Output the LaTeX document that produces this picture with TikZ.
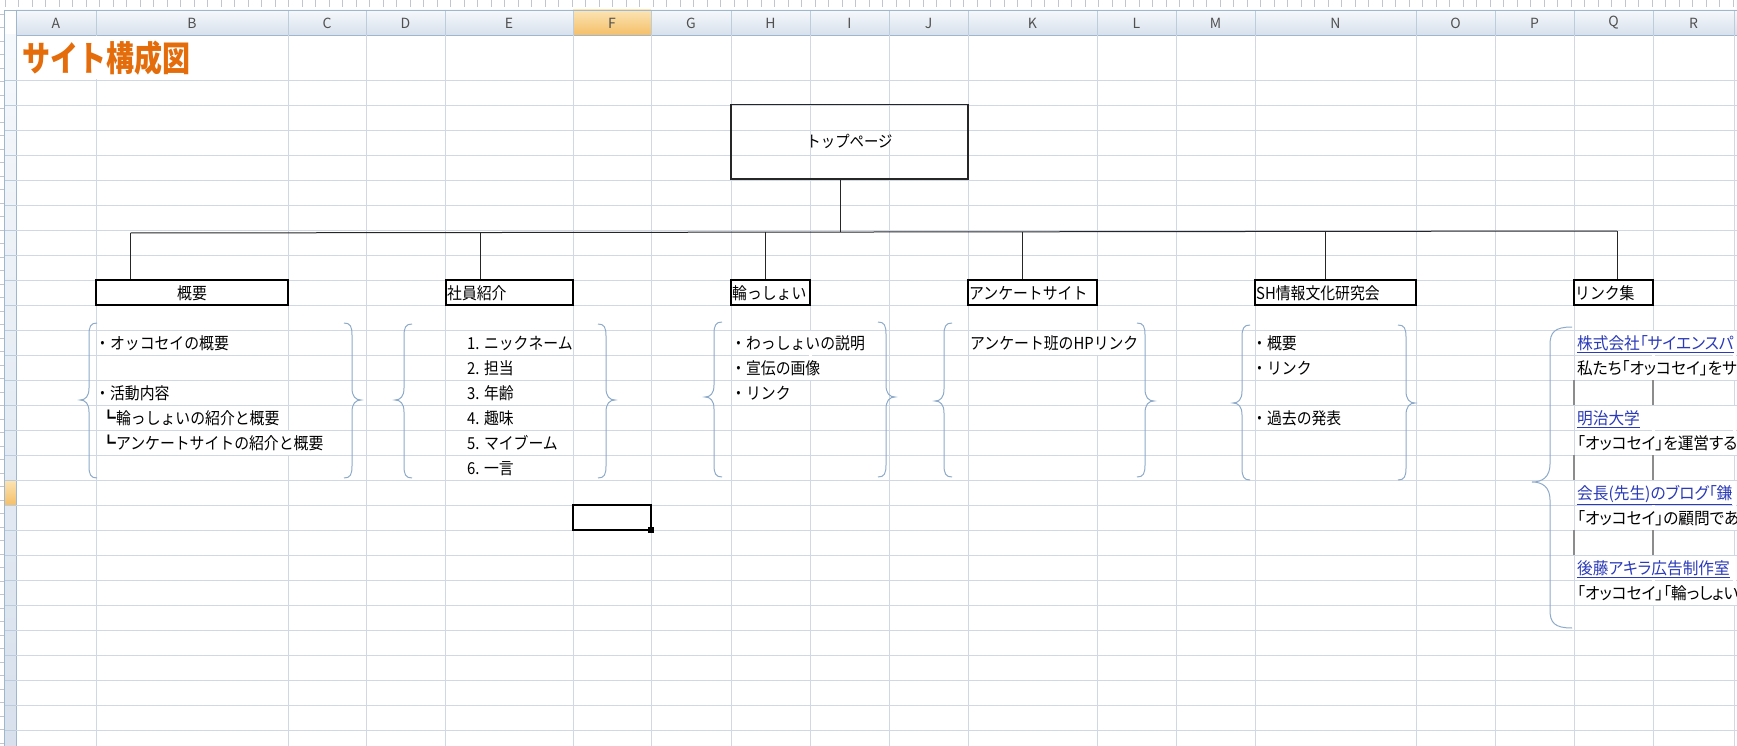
\documentclass[tikz,border=0pt]{standalone}
\usepackage{fontspec}
\setmainfont{Noto Sans CJK JP}
\newfontfamily\pfont{Noto Sans CJK JP}[RawFeature=+palt]
\usetikzlibrary{calc}
\definecolor{gridc}{HTML}{D0D7E5}
\definecolor{hdrline}{HTML}{9EB6CE}
\definecolor{hdrtop}{HTML}{F6F9FC}
\definecolor{hdrbot}{HTML}{D7E0EC}
\definecolor{seltop}{HTML}{FCE4B3}
\definecolor{selbot}{HTML}{F4BF68}
\definecolor{titleor}{HTML}{E46C0A}
\definecolor{bracec}{HTML}{8EAACB}
\definecolor{linkc}{HTML}{2A3AB8}
\definecolor{hdrtxt}{HTML}{505050}
\newcommand\jt[1]{\scalebox{0.9}[1]{#1}}
\newcommand\pt[1]{\scalebox{0.95}[1]{\pfont #1}}
\newcommand\mybrace[8]{% xv y1 ym y2 s arm tip r
\draw[bracestyle] ({#1+#5*#6},#2) .. controls ({#1+#5*#6*0.2},#2) and (#1,{#2+#8*0.3}) .. (#1,{#2+#8}) -- (#1,{#3-#8}) .. controls (#1,{#3-#8*0.3}) and ({#1-#5*#7*0.4},#3) .. ({#1-#5*#7},#3) .. controls ({#1-#5*#7*0.4},#3) and (#1,{#3+#8*0.3}) .. (#1,{#3+#8}) -- (#1,{#4-#8}) .. controls (#1,{#4-#8*0.3}) and ({#1+#5*#6*0.2},#4) .. ({#1+#5*#6},#4);}
\begin{document}
\begin{tikzpicture}[x=1pt,y=-1pt,
  txt/.style={inner sep=0pt, anchor=base west, font=\fontsize{16.5}{16.5}\selectfont},
  linktxt/.style={txt, text=linkc},
  hdr/.style={inner sep=0pt, font=\fontsize{14}{14}\selectfont, text=hdrtxt},
  sbox/.style={draw=black, line width=1.1pt, minimum height=25pt, inner sep=0pt},
  topbox/.style={draw=black!85, line width=1.1pt, minimum width=237pt, minimum height=74.5pt, inner sep=0pt, font=\fontsize{16}{16}\selectfont},
  conn/.style={draw=black!85, line width=1.0pt},
  bracestyle/.style={draw=bracec, line width=1pt},
  darkseg/.style={draw=black!45, line width=1.2pt}]
\useasboundingbox (0,0) rectangle (1737,746);
\clip (0,0) rectangle (1737,746);
\fill[white] (0,0) rectangle (1737,746);
% top ruler
\foreach \x in {5,18.5,...,1737} \draw[gridc!80!gray, line width=0.6pt] (\x,0) -- (\x,7);
\foreach \y in {14,27.5,...,746} \draw[gridc!80!gray, line width=0.6pt] (0,\y) -- (3.5,\y);
% column header
\shade[top color=hdrtop, bottom color=hdrbot] (16,10) rectangle (1737,35);
\shade[top color=seltop, bottom color=selbot] (573,10) rectangle (651,35);
\foreach \x in {96,288,366,445,573,651,731,810,889,968,1097,1176,1255,1416,1495,1574,1653,1734}
  \draw[hdrline!70, line width=0.8pt] (\x,10) -- (\x,35);
\draw[hdrline, line width=0.9pt] (4,10) -- (1737,10);
\draw[hdrline, line width=0.9pt] (4,35) -- (1737,35);
\foreach \c/\l in {56/A,192/B,327/C,405.5/D,509/E,612/F,691/G,770.5/H,849.5/I,928.5/J,1032.5/K,1136.5/L,1215.5/M,1335.5/N,1455.5/O,1534.5/P,1613.5/Q,1693.5/R}
  \node[hdr] (h\l) at (\c,23) {\l};
% row header
\shade[top color=hdrtop, bottom color=hdrbot] (4,35) rectangle (16,746);
\shade[top color=seltop, bottom color=selbot] (4,480) rectangle (16,505);
\foreach \y in {80,105,...,730} \draw[hdrline!70, line width=0.8pt] (4,\y) -- (16,\y);
\draw[hdrline, line width=0.9pt] (4,10) -- (4,746);
\draw[hdrline, line width=0.9pt] (16,10) -- (16,746);
% grid
\foreach \y in {80,105,...,730} \draw[gridc, line width=0.9pt] (16,\y) -- (1737,\y);
\foreach \x in {96,288,366,445,573,651,731,810,889,968,1097,1176,1255,1416,1495,1574,1653,1734}
  \draw[gridc, line width=0.9pt] (\x,35) -- (\x,746);
% gridlines hidden by overflowing text
\fill[white] (94.5,36) rectangle (97.5,79.5);
\fill[white] (286.5,430.5) rectangle (289.5,454.5);
\fill[white] (808.5,330.5) rectangle (811.5,379.5);
\fill[white] (1095.5,330.5) rectangle (1098.5,354.5);
\foreach \a/\b in {330.5/379.5,405.5/454.5,480.5/529.5,555.5/604.5}{
  \fill[white] (1651.5,\a) rectangle (1654.5,\b);
  \fill[white] (1732.5,\a) rectangle (1735.5,\b);}
\foreach \a/\b in {380/405,455/480,530/555}{
  \draw[darkseg] (1574,\a) -- (1574,\b);
  \draw[darkseg] (1653,\a) -- (1653,\b);}
% title
\node[inner sep=0pt, anchor=base west, font=\fontsize{35}{35}\selectfont\bfseries, text=titleor] (title) at (22,72) {\scalebox{0.8}[1]{サイト構成図}};
% top box
\node[topbox] (top) at (849.5,141.8) {\jt{トップページ}};
% sub boxes
\node[sbox, minimum width=192pt] (gaiyo) at (192,292.5) {};
\node[sbox, minimum width=127pt] (shain) at (509.5,292.5) {};
\node[sbox, minimum width=79pt] (wasshoi) at (770.5,292.5) {};
\node[sbox, minimum width=129pt] (enq) at (1032.5,292.5) {};
\node[sbox, minimum width=161pt] (sh) at (1335.5,292.5) {};
\node[sbox, minimum width=79pt] (links) at (1613.5,292.5) {};
\node[txt, anchor=base] (gaiyoT) at ([yshift=-6.5pt]gaiyo.center) {\jt{概要}};
\node[txt] (shainT) at ([shift={(1.5,6.5)}]shain.west) {\jt{社員紹介}};
\node[txt] (wasshoiT) at ([shift={(1.5,6.5)}]wasshoi.west) {\jt{輪っしょい}};
\node[txt] (enqT) at ([shift={(1.5,6.5)}]enq.west) {\jt{アンケートサイト}};
\node[txt] (shT) at ([shift={(1.5,6.5)}]sh.west) {\jt{SH情報文化研究会}};
\node[txt] (linksT) at ([shift={(1.5,6.5)}]links.west) {\jt{リンク集}};
% connectors
\coordinate (tr) at (840,232);
\coordinate (d1) at (130.5,233);
\coordinate (d2) at (480.7,232.5);
\coordinate (d3) at (765.5,232);
\coordinate (d4) at (1022.5,232);
\coordinate (d5) at (1325.5,231.5);
\coordinate (d6) at (1617,231);
\draw[conn] (tr |- top.south) -- (tr);
\draw[conn] (d1) -- (d6);
\draw[conn] (d1) -- (d1 |- gaiyo.north);
\draw[conn] (d2) -- (d2 |- shain.north);
\draw[conn] (d3) -- (d3 |- wasshoi.north);
\draw[conn] (d4) -- (d4 |- enq.north);
\draw[conn] (d5) -- (d5 |- sh.north);
\draw[conn] (d6) -- (d6 |- links.north);
% braces
\mybrace{89}{323}{400}{478}{1}{8}{9}{12}
\mybrace{352}{323}{400}{478}{-1}{8}{9}{12}
\mybrace{404}{324}{400}{478}{1}{8}{9}{12}
\mybrace{606}{324}{400}{478}{-1}{8}{9}{12}
\mybrace{714}{322}{397}{477}{1}{8}{9}{12}
\mybrace{886}{322}{397}{477}{-1}{8}{9}{12}
\mybrace{944}{323}{401}{477}{1}{8}{9}{12}
\mybrace{1145}{323}{401}{477}{-1}{8}{9}{12}
\mybrace{1242}{325}{403}{480}{1}{8}{9}{12}
\mybrace{1406}{325}{403}{480}{-1}{8}{9}{12}
\mybrace{1550}{327}{482}{628}{1}{22}{18}{18}
% texts: 概要
\node[txt] (g1) at (95,349.5) {\jt{・オッコセイの概要}};
\node[txt] (g2) at (95,399.5) {\jt{・活動内容}};
\node[txt] (g3) at (101,424.5) {\jt{┗輪っしょいの紹介と概要}};
\node[txt] (g4) at (101,449.5) {\jt{┗アンケートサイトの紹介と概要}};
% 社員紹介
\node[txt] (s1) at (467,349.5) {\jt{1. ニックネーム}};
\node[txt] (s2) at (467,374.5) {\jt{2. 担当}};
\node[txt] (s3) at (467,399.5) {\jt{3. 年齢}};
\node[txt] (s4) at (467,424.5) {\jt{4. 趣味}};
\node[txt] (s5) at (467,449.5) {\jt{5. マイブーム}};
\node[txt] (s6) at (467,474.5) {\jt{6. 一言}};
% 輪っしょい
\node[txt] (w1) at (731,349.5) {\jt{・わっしょいの説明}};
\node[txt] (w2) at (731,374.5) {\jt{・宣伝の画像}};
\node[txt] (w3) at (731,399.5) {\jt{・リンク}};
% アンケート
\node[txt] (e1) at (970,349.5) {\jt{アンケート班のHPリンク}};
% SH
\node[txt] (h1) at (1252,349.5) {\jt{・概要}};
\node[txt] (h2) at (1252,374.5) {\jt{・リンク}};
\node[txt] (h3) at (1252,424.5) {\jt{・過去の発表}};
% links
\node[linktxt] (l1) at (1577,349.5) {\pt{\underline{株式会社「サイエンスパ}}};
\node[txt] (l1d) at (1577,374.5) {\pt{私たち「オッコセイ」をサ}};
\node[linktxt] (l2) at (1577,424.5) {\pt{\underline{明治大学}}};
\node[txt] (l2d) at (1577,449.5) {\pt{「オッコセイ」を運営する}};
\node[linktxt] (l3) at (1577,499.5) {\pt{\underline{会長(先生)のブログ「鎌}}};
\node[txt] (l3d) at (1577,524.5) {\pt{「オッコセイ」の顧問であ}};
\node[linktxt] (l4) at (1577,574.5) {\pt{\underline{後藤アキラ広告制作室}}};
\node[txt] (l4d) at (1577,599.5) {\pt{「オッコセイ」「輪っしょい}};
% active cell
\draw[line width=2.5pt] (573,505) rectangle (651,530);
\fill (648,527) rectangle (654,533);
\end{tikzpicture}
\end{document}
